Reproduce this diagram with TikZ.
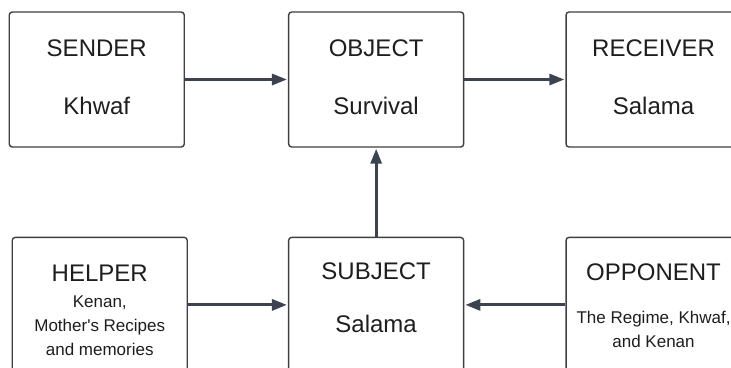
\documentclass[tikz,border=0pt]{standalone}
\usepackage{fontspec}
\setmainfont{Liberation Sans}
\usetikzlibrary{arrows.meta,positioning}

\definecolor{boxline}{HTML}{3F3F3F}
\definecolor{arrowcol}{HTML}{3C4350}
\definecolor{ink}{HTML}{1E1E1E}

\begin{document}
\begin{tikzpicture}[>={Triangle[length=15pt,width=11pt]},shorten >=1pt,
                    box/.style={draw=boxline,line width=1.4pt,rounded corners=3pt,
                                minimum width=175pt,minimum height=135pt,fill=white},
                    roletext/.style={anchor=base,inner sep=0pt,text=ink,
                                     font=\fontsize{24}{28}\selectfont},
                    bodytext/.style={anchor=base,inner sep=0pt,text=ink,
                                     font=\fontsize{24}{28}\selectfont},
                    smalltext/.style={anchor=north,inner sep=0pt,text=ink,align=center,
                                      font=\fontsize{17}{24}\selectfont},
                    flow/.style={->,draw=arrowcol,line width=3pt}]

  \useasboundingbox (0pt,0pt) rectangle (731pt,-367pt);
  \clip (0pt,0pt) rectangle (731pt,-367pt);

  \node[box] (sender)                                  at (96.75pt,-79.5pt) {};
  \node[box] (object)   [right=103pt of sender]        {};
  \node[box] (receiver) [right=101pt of object]        {};
  \node[box] (helper)   [below=89pt of sender,xshift=3pt] {};
  \node[box] (subject)  [below=89pt of object]         {};
  \node[box] (opponent) [below=89pt of receiver]       {};

  % labels
  \node[roletext] (sendert)   at ([yshift=-45pt]sender.north)    {SENDER};
  \node[bodytext] (senderb)   at ([yshift=-103pt]sender.north)   {Khwaf};
  \node[roletext] (objectt)   at ([yshift=-45pt]object.north)    {OBJECT};
  \node[bodytext] (objectb)   at ([yshift=-103pt]object.north)   {Survival};
  \node[roletext] (receivert) at ([yshift=-45pt]receiver.north)  {RECEIVER};
  \node[bodytext] (receiverb) at ([yshift=-103pt]receiver.north) {Salama};

  \node[roletext]  (helpert)   at ([yshift=-45pt]helper.north)   {HELPER};
  \node[smalltext] (helperb)   at ([yshift=-59pt]helper.north)   {Kenan,\\Mother\textquotesingle s Recipes\\and memories};
  \node[roletext]  (subjectt)  at ([yshift=-43pt]subject.north)  {SUBJECT};
  \node[bodytext]  (subjectb)  at ([yshift=-96pt]subject.north)  {Salama};
  \node[roletext]  (opponentt) at ([yshift=-44pt]opponent.north) {OPPONENT};
  \node[smalltext] (opponentb) at ([yshift=-74pt]opponent.north) {The Regime, Khwaf,\\and Kenan};

  \path (sender)   edge[flow] (object)
        (object)   edge[flow] (receiver)
        (subject)  edge[flow] (object)
        (helper)   edge[flow] (subject)
        (opponent) edge[flow] (subject);
\end{tikzpicture}
\end{document}
